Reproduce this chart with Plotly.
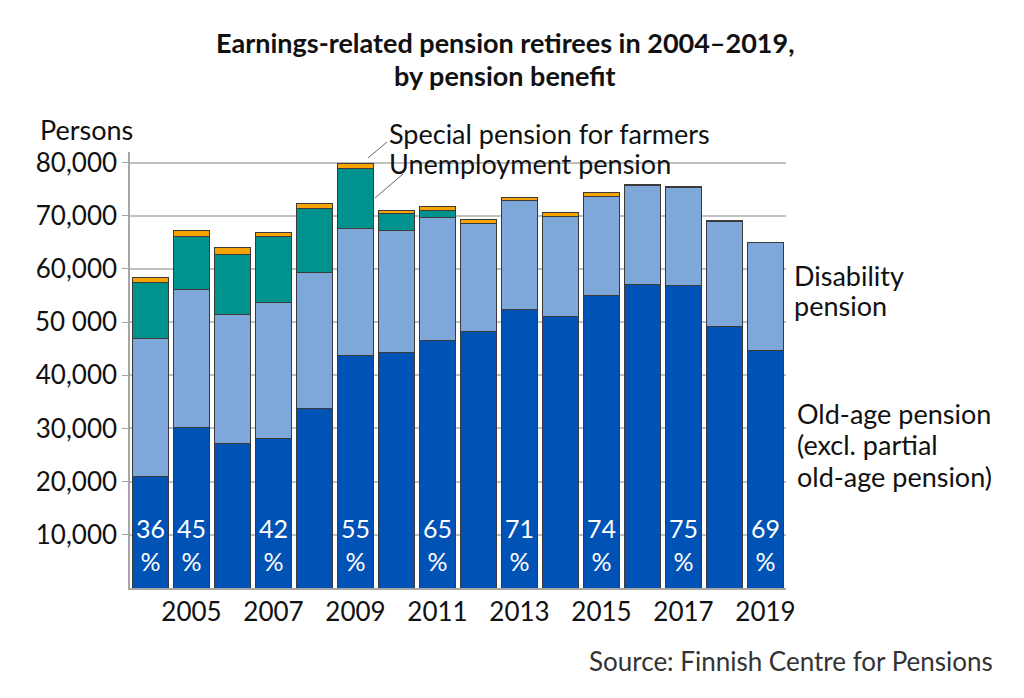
import plotly.graph_objects as go

years = list(range(2004, 2020))
old_age = [20940, 30230, 27090, 28090, 33800, 43700, 44260, 46590, 48210, 52420, 51030, 54980, 57000, 56810, 49100, 44640]
disability = [25950, 25820, 24320, 25570, 25510, 23950, 22950, 23070, 20390, 20430, 18760, 18700, 18670, 18490, 19800, 20250]
unemployment = [10540, 10030, 11360, 12360, 11980, 11220, 3270, 1390, 0, 0, 0, 0, 0, 0, 0, 0]
farmers = [940, 1200, 1250, 890, 1000, 1020, 570, 670, 750, 640, 750, 620, 250, 200, 150, 150]

pct_years = [2004, 2005, 2007, 2009, 2011, 2013, 2015, 2017, 2019]
pct_labels = ["36", "45", "42", "55", "65", "71", "74", "75", "69"]

y_tickvals = [10000, 20000, 30000, 40000, 50000, 60000, 70000, 80000]
y_ticktext = ["10,000", "20,000", "30,000", "40,000", "50 000", "60,000", "70,000", "80,000"]
x_tickvals = [2005, 2007, 2009, 2011, 2013, 2015, 2017, 2019]

title_lines = ["Earnings-related pension retirees in 2004–2019,", "by pension benefit"]

FONT = "Lato"
TXT = "#111111"
outline = dict(color="#3a3a3a", width=1)

# page shows the figure offset by 8px; figure is sized to fit the 1024x698 window
W, H = 1016, 690
L, R, T, B = 122, 238, 144, 110

fig = go.Figure()
series = [
    ("Old-age pension", old_age, "#0052B4"),
    ("Disability pension", disability, "#7FA8DA"),
    ("Unemployment pension", unemployment, "#00938E"),
    ("Special pension for farmers", farmers, "#F7A300"),
]
for name, vals, col in series:
    fig.add_trace(go.Bar(x=years, y=vals, name=name, marker=dict(color=col, line=outline),
                         hoverinfo="x+y+name"))

fig.update_layout(
    barmode="stack",
    bargap=0.146,
    width=W, height=H,
    margin=dict(l=L, r=R, t=T, b=B),
    paper_bgcolor="white", plot_bgcolor="white",
    showlegend=False,
    font=dict(family=FONT, color=TXT, size=26),
)
fig.update_xaxes(range=[2003.5, 2019.5], tickvals=x_tickvals, ticks="", showgrid=False,
                 showline=True, linecolor="#a6a6a6", linewidth=1.5, zeroline=False,
                 tickfont=dict(size=26, family=FONT, color=TXT))
fig.update_yaxes(range=[0, 82000], tickvals=y_tickvals, ticktext=y_ticktext,
                 showgrid=True, gridcolor="#c0c0c0", gridwidth=1.5,
                 showline=True, linecolor="#a6a6a6", linewidth=1.5,
                 ticks="outside", ticklen=6, tickcolor="#a6a6a6", zeroline=False,
                 tickfont=dict(size=26, family=FONT, color=TXT))

for yr, lab in zip(pct_years, pct_labels):
    fig.add_annotation(x=yr, y=0, xref="x", yref="y", text=lab + "<br>%", showarrow=False,
                       yanchor="bottom", yshift=10, font=dict(size=25, color="white", family=FONT))


def px(xp, yp):
    # pixel position in the reference window -> paper coords
    return (xp - 8 - L) / (W - L - R), ((H - B) - (yp - 8)) / (H - T - B)


# title (two centred bold lines)
for line, yp in zip(title_lines, [42, 75]):
    xx, yy = px(505, yp)
    fig.add_annotation(x=xx, y=yy, xref="paper", yref="paper", text="<b>" + line + "</b>",
                       showarrow=False, xanchor="center", yanchor="middle",
                       font=dict(size=27, family=FONT, color=TXT))

labels = [
    ("Persons", 38, 130),
    ("Special pension for farmers", 387, 133),
    ("Unemployment pension", 387, 163),
    ("Disability", 792, 275),
    ("pension", 792, 305),
    ("Old-age pension", 795, 413),
    ("(excl. partial", 795, 444),
    ("old-age pension)", 795, 476),
]
for t, xp, yp in labels:
    xx, yy = px(xp, yp)
    fig.add_annotation(x=xx, y=yy, xref="paper", yref="paper", text=t, showarrow=False,
                       xanchor="left", yanchor="middle", font=dict(size=27, family=FONT, color=TXT))

sx, sy = px(995, 661)
fig.add_annotation(x=sx, y=sy, xref="paper", yref="paper", text="Source: Finnish Centre for Pensions",
                   showarrow=False, xanchor="right", yanchor="middle",
                   font=dict(size=26, family=FONT, color="#333333"))

for (x0, y0, x1, y1) in [(368, 158, 387, 142), (375, 198, 403, 174)]:
    a0, b0 = px(x0, y0)
    a1, b1 = px(x1, y1)
    fig.add_shape(type="line", xref="paper", yref="paper", x0=a0, y0=b0, x1=a1, y1=b1,
                  line=dict(color="#666666", width=1))

fig.write_html("out.html")
